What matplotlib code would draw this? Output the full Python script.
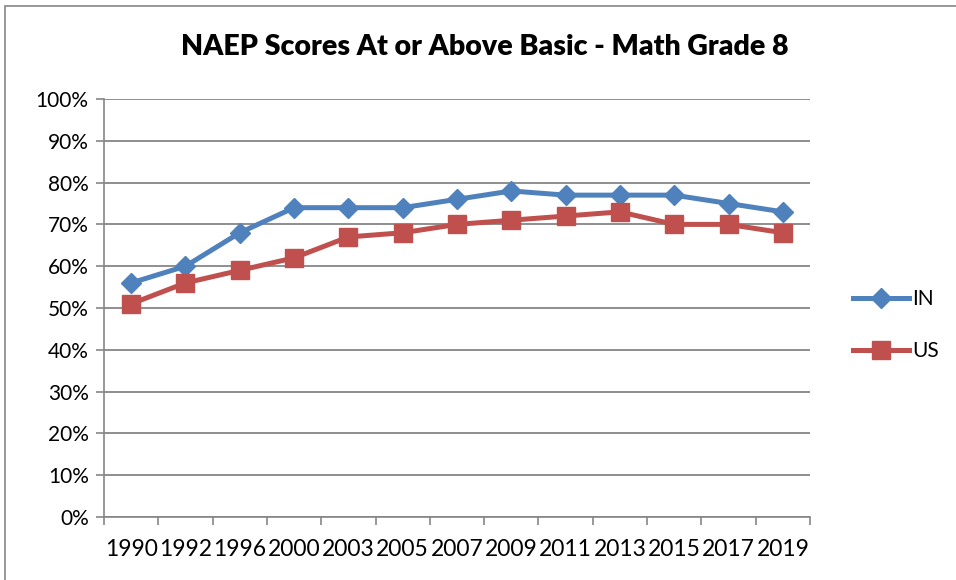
import matplotlib.pyplot as plt
from matplotlib import font_manager
from matplotlib.patches import Rectangle
from matplotlib.ticker import FixedLocator, PercentFormatter

years = ['1990', '1992', '1996', '2000', '2003', '2005', '2007',
         '2009', '2011', '2013', '2015', '2017', '2019']
in_scores = [56, 60, 68, 74, 74, 74, 76, 78, 77, 77, 77, 75, 73]
us_scores = [51, 56, 59, 62, 67, 68, 70, 71, 72, 73, 70, 70, 68]
y_ticks = list(range(0, 101, 10))

blue = '#4F81BD'
red = '#C0504D'
grid_gray = '#868686'

def pick_font(names):
    for n in names:
        try:
            font_manager.findfont(n, fallback_to_default=False)
            return n
        except Exception:
            pass
    return 'DejaVu Sans'

main_font = pick_font(['Lato', 'Open Sans', 'DejaVu Sans'])
narrow_font = pick_font(['Liberation Sans Narrow', 'DejaVu Sans Condensed', main_font])
plt.rcParams['font.family'] = main_font

fig = plt.figure(figsize=(9.56, 5.8), dpi=100)

# outer chart border (only top and left edges are visible in the reference)
fig.add_artist(Rectangle((5 / 956, -0.1), 1.2, 0.1 + (580 - 6) / 580,
                         transform=fig.transFigure, fill=False,
                         ec=grid_gray, lw=1.2))

ax = fig.add_axes([104 / 956, 63 / 580, 706 / 956, 418 / 580])

x = list(range(len(years)))
ax.plot(x, in_scores, color=blue, lw=3.6, marker='D', ms=10.5, label='IN', zorder=3)
ax.plot(x, us_scores, color=red, lw=3.6, marker='s', ms=13.5, label='US', zorder=3)

ax.set_xlim(-0.5, len(years) - 0.5)
ax.set_ylim(0, 100)
ax.set_yticks(y_ticks)
ax.yaxis.set_major_formatter(PercentFormatter(decimals=0))
ax.grid(axis='y', color=grid_gray, lw=1.3)
ax.set_axisbelow(True)

# category ticks at the boundaries, labels at the centres
ax.xaxis.set_major_locator(FixedLocator([i - 0.5 for i in range(len(years) + 1)]))
ax.xaxis.set_minor_locator(FixedLocator(x))
ax.xaxis.set_major_formatter(plt.NullFormatter())
ax.set_xticks(x, years, minor=True)
ax.tick_params(axis='x', which='major', length=6, width=1.2, color=grid_gray)
ax.tick_params(axis='x', which='minor', length=0, pad=16, labelsize=16.5)
for lbl in ax.get_xticklabels(minor=True):
    lbl.set_fontfamily(narrow_font)
ax.tick_params(axis='y', length=6, width=1.2, color=grid_gray, labelsize=15, pad=5)

for side in ['top', 'right']:
    ax.spines[side].set_visible(False)
ax.spines['left'].set_color(grid_gray)
ax.spines['bottom'].set_color(grid_gray)
ax.spines['left'].set_linewidth(1.2)
ax.spines['bottom'].set_linewidth(1.2)

fig.text(485 / 956, 1 - 47 / 580, 'NAEP Scores At or Above Basic - Math Grade 8',
         ha='center', va='center', fontsize=20.5, fontweight='heavy')

fig.legend(loc='center left', bbox_to_anchor=(834 / 956, 1 - 325 / 580),
           frameon=False, fontsize=15, handlelength=2.7, labelspacing=1.55,
           handletextpad=0.15)

fig.savefig('out.png', dpi=100)
